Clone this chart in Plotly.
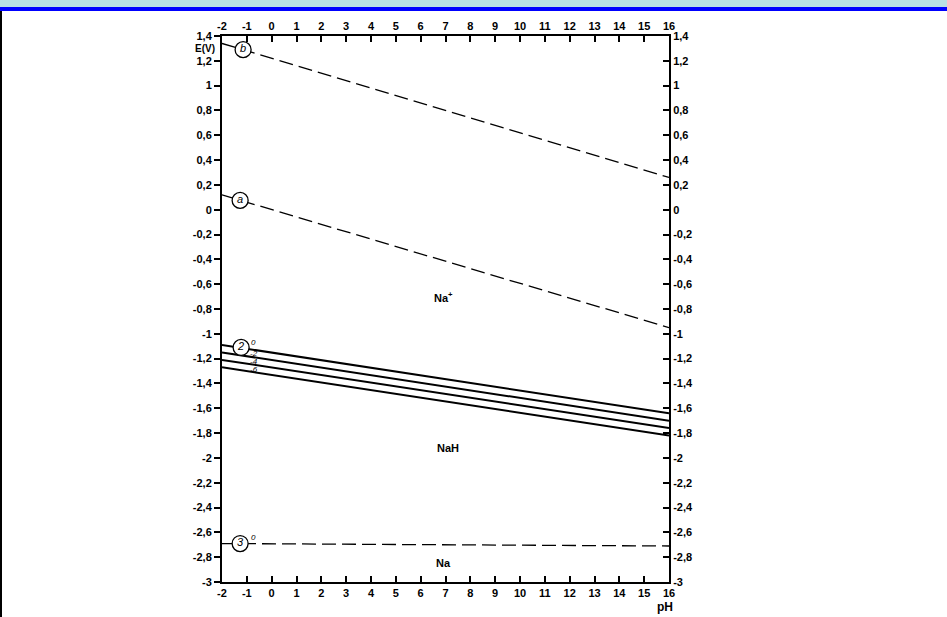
import plotly.graph_objects as go

# ---------------- data ----------------
ph_ends = [-2, 16]
line_b = [1.34, 0.26]          # O2 / H2O line (b)
line_a = [0.12, -0.95]         # H+ / H2 line (a)
line2_labels = ["0", "-2", "-4", "-6"]
line2_label_e = [-1.07, -1.155, -1.22, -1.285]
line2_left = [-1.09, -1.15, -1.21, -1.27]
line2_right = [-1.64, -1.70, -1.76, -1.82]
line3 = [-2.69, -2.71]         # Na+ / Na

circle_names = ["b", "a", "2", "3"]
circle_ph = [-1.15, -1.27, -1.23, -1.27]
circle_e = [1.29, 0.075, -1.11, -2.69]

regions = ["Na<sup>+</sup>", "NaH", "Na"]
region_ph = [6.9, 7.1, 6.9]
region_e = [-0.70, -1.92, -2.85]

x_ticks = list(range(-2, 17))
y_ticks = [1.4, 1.2, 1.0, 0.8, 0.6, 0.4, 0.2, 0.0, -0.2, -0.4, -0.6, -0.8, -1.0,
           -1.2, -1.4, -1.6, -1.8, -2.0, -2.2, -2.4, -2.6, -2.8, -3.0]
y_ticklabels = ["1,4", "1,2", "1", "0,8", "0,6", "0,4", "0,2", "0", "-0,2", "-0,4",
                "-0,6", "-0,8", "-1", "-1,2", "-1,4", "-1,6", "-1,8", "-2", "-2,2",
                "-2,4", "-2,6", "-2,8", "-3"]

# ---------------- figure ----------------
fig = go.Figure()
DASH = "14px,6px"

fig.add_trace(go.Scatter(x=ph_ends, y=line_b, mode="lines",
                         line=dict(color="black", width=1.3, dash=DASH),
                         showlegend=False, hoverinfo="skip"))
fig.add_trace(go.Scatter(x=ph_ends, y=line_a, mode="lines",
                         line=dict(color="black", width=1.3, dash=DASH),
                         showlegend=False, hoverinfo="skip"))
for lo, hi in zip(line2_left, line2_right):
    fig.add_trace(go.Scatter(x=ph_ends, y=[lo, hi], mode="lines",
                             line=dict(color="black", width=2),
                             showlegend=False, hoverinfo="skip"))
fig.add_trace(go.Scatter(x=ph_ends, y=line3, mode="lines",
                         line=dict(color="black", width=1.3, dash=DASH),
                         showlegend=False, hoverinfo="skip"))

# circles with labels
fig.add_trace(go.Scatter(x=circle_ph, y=circle_e, mode="markers+text",
                         marker=dict(size=16, color="white",
                                     line=dict(color="black", width=1.3)),
                         text=["<i>" + c + "</i>" for c in circle_names],
                         textposition="middle center",
                         textfont=dict(family="Liberation Sans, Arial", size=11, color="black"),
                         showlegend=False, hoverinfo="skip"))

# concentration labels for line 2 and line 3
for lab, e in zip(line2_labels, line2_label_e):
    fig.add_annotation(x=-0.72, y=e, text="<i>" + lab + "</i>", showarrow=False,
                       font=dict(family="Liberation Sans, Arial", size=8, color="black"),
                       xanchor="center", yanchor="middle")
fig.add_annotation(x=-0.72, y=line3[0] + 0.05, text="<i>0</i>", showarrow=False,
                   font=dict(family="Liberation Sans, Arial", size=8, color="black"))

# region labels
for t, x, y in zip(regions, region_ph, region_e):
    fig.add_annotation(x=x, y=y, text="<b>" + t + "</b>", showarrow=False,
                       font=dict(family="Liberation Sans, Arial, sans-serif",
                                 size=11, color="black"))

# axis titles
fig.add_annotation(xref="paper", yref="paper", x=-0.012, y=0.978, text="<b>E(V)</b>",
                   showarrow=False, xanchor="right", yanchor="middle",
                   font=dict(family="Liberation Sans, Arial", size=10, color="black"))
fig.add_annotation(xref="paper", yref="paper", x=0.99, y=-0.03, text="<b>pH</b>",
                   showarrow=False, xanchor="center", yanchor="top",
                   font=dict(family="Liberation Sans, Arial", size=12, color="black"))

# invisible trace to activate the secondary (top / right) axes
fig.add_trace(go.Scatter(x=[0], y=[0], xaxis="x2", yaxis="y2", mode="markers",
                         marker=dict(size=1, opacity=0),
                         showlegend=False, hoverinfo="skip"))

# header decoration of the page
W, H = 947, 617
l, r, t, b = 222, 278, 36, 35
pw, ph = W - l - r, H - t - b

def px(xp):
    return (xp - l) / pw

def py(yp):
    return (H - b - yp) / ph

fig.add_shape(type="rect", xref="paper", yref="paper", x0=px(-2), x1=px(W + 2),
              y0=py(7), y1=py(-3), fillcolor="#b9e0e4", line_width=0, layer="below")
fig.add_shape(type="rect", xref="paper", yref="paper", x0=px(-2), x1=px(W + 2),
              y0=py(11), y1=py(7), fillcolor="#0000ff", line_width=0, layer="below")
fig.add_shape(type="rect", xref="paper", yref="paper", x0=px(-2), x1=px(2),
              y0=py(H + 2), y1=py(11), fillcolor="black", line_width=0, layer="below")

ax_common = dict(showgrid=False, zeroline=False, showline=True, linecolor="black",
                 linewidth=2, ticks="inside", ticklen=6, tickwidth=1.5,
                 tickcolor="black", tickfont=dict(family="Liberation Sans, Arial",
                                                  size=11, color="black"))

fig.update_layout(
    width=W, height=H, autosize=False,
    margin=dict(l=l, r=r, t=t, b=b, pad=0),
    paper_bgcolor="white", plot_bgcolor="white",
    showlegend=False,
    xaxis=dict(range=[-2, 16], tickvals=x_ticks, ticktext=["<b>%d</b>" % v for v in x_ticks],
               **ax_common),
    xaxis2=dict(range=[-2, 16], tickvals=x_ticks, ticktext=["<b>%d</b>" % v for v in x_ticks],
                overlaying="x", side="top", matches="x", **ax_common),
    yaxis=dict(range=[-3, 1.4], tickvals=y_ticks,
               ticktext=["<b>" + s + "</b>" for s in y_ticklabels],
               **{**ax_common, "ticks": "outside"}),
    yaxis2=dict(range=[-3, 1.4], tickvals=y_ticks,
                ticktext=["<b>" + s + "</b>" for s in y_ticklabels],
                overlaying="y", side="right", matches="y", **ax_common),
)

fig.write_html("out.html", config={"displayModeBar": False},
               post_script="document.body.style.margin='0';document.body.style.overflow='hidden';")
